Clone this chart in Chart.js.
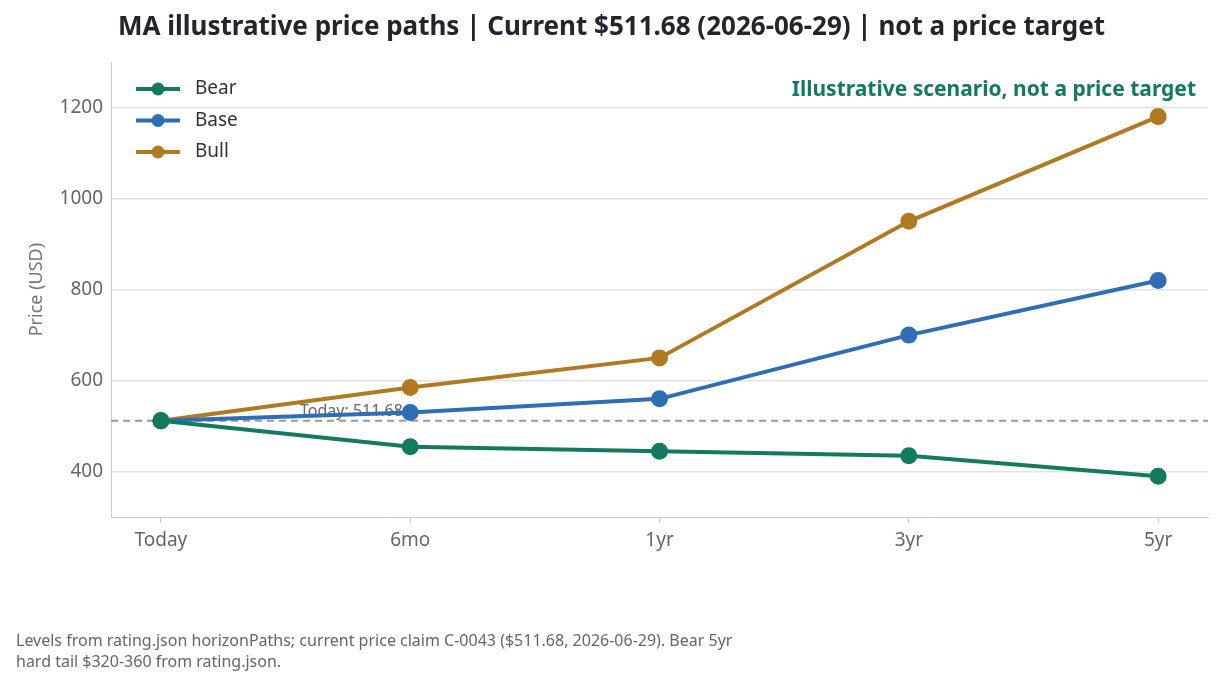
<!DOCTYPE html>
<html><head><meta charset="utf-8">
<script src="https://cdn.jsdelivr.net/npm/chart.js@4/dist/chart.umd.min.js"></script>
<style>html,body{margin:0;padding:0;background:#fff;}#w{position:relative;width:1222px;height:689px;}</style>
</head><body><div id="w"><canvas id="c" width="1222" height="689"></canvas></div>
<script>
const categories = ["Today","6mo","1yr","3yr","5yr"];
const bear = [511.68, 455, 445, 435, 390];
const base = [511.68, 530, 560, 700, 820];
const bull = [511.68, 585, 650, 950, 1180];
const current = 511.68;
const yTicks = [400,600,800,1000,1200];
const F = "'Noto Sans', sans-serif";
const series = [["Bear",bear,"#137a5e"],["Base",base,"#2f6db5"],["Bull",bull,"#b07a22"]];
const toPts = a => a.map((v,i)=>({x:i,y:v}));
const overlay = {
  id:'ov',
  beforeDatasetsDraw(ch){
    const c=ch.ctx, y=ch.scales.y.getPixelForValue(current), a=ch.chartArea;
    c.save(); c.strokeStyle='#999'; c.lineWidth=2; c.setLineDash([7,5]);
    c.beginPath(); c.moveTo(a.left,y); c.lineTo(a.right,y); c.stroke(); c.setLineDash([]);
    c.fillStyle='#666'; c.font='16px '+F; c.textBaseline='bottom'; c.fillText('Today: 511.68',300,y-1);
    c.restore();
  },
  afterDraw(ch){
    const c=ch.ctx; c.save();
    c.fillStyle='#22252b'; c.font='bold 26px '+F; c.textBaseline='middle';
    c.fillText('MA illustrative price paths | Current $511.68 (2026-06-29) | not a price target',118,28);
    c.fillStyle='#137a5e'; c.font='bold 21px '+F; c.textAlign='right';
    c.fillText('Illustrative scenario, not a price target',1196,90);
    c.textAlign='left'; c.fillStyle='#666'; c.font='16px '+F;
    c.fillText('Levels from rating.json horizonPaths; current price claim C-0043 ($511.68, 2026-06-29). Bear 5yr',16,641);
    c.fillText('hard tail $320-360 from rating.json.',16,662);
    series.forEach((s,i)=>{const y=89+i*31.5;
      c.strokeStyle=s[2]; c.lineWidth=4; c.beginPath(); c.moveTo(136,y); c.lineTo(180,y); c.stroke();
      c.fillStyle=s[2]; c.beginPath(); c.arc(158,y,6.5,0,Math.PI*2); c.fill();
      c.fillStyle='#333'; c.font='19px '+F; c.fillText(s[0],195,y);});
    c.restore();
  }
};
new Chart(document.getElementById('c'),{
  type:'line',
  data:{datasets:series.map(s=>({label:s[0],data:toPts(s[1]),borderColor:s[2],backgroundColor:s[2],borderWidth:4,pointRadius:6.5,pointHoverRadius:6.5,tension:0}))},
  options:{responsive:false,animation:false,
    layout:{padding:{left:22,right:14,top:62,bottom:131}},
    plugins:{legend:{display:false},tooltip:{enabled:false}},
    scales:{
      x:{type:'linear',min:-0.2,max:4.2,
        afterBuildTicks(ax){ax.ticks=categories.map((_,i)=>({value:i}));},
        ticks:{callback:v=>categories[v],color:'#666',font:{family:F,size:19},padding:6},
        grid:{display:true,drawOnChartArea:false,color:'#ccc',tickLength:6},border:{color:'#ccc'}},
      y:{min:300,max:1300,
        afterBuildTicks(ax){ax.ticks=yTicks.map(v=>({value:v}));},
        ticks:{callback:v=>String(v),color:'#666',font:{family:F,size:19},padding:8},
        grid:{color:'#e2e2e2',drawTicks:false,lineWidth:1.5},border:{color:'#ccc'},
        title:{display:true,text:'Price (USD)',color:'#777',font:{family:F,size:18}}}
    }},
  plugins:[overlay]
});
</script></body></html>
